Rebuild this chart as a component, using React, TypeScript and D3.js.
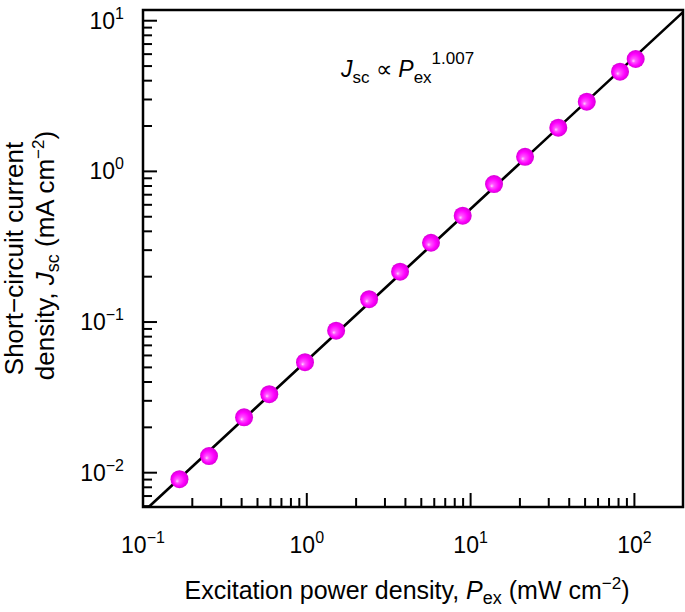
import React from "react";
import * as d3 from "d3";

// Measured data (excitation power density in mW cm^-2, Jsc in mA cm^-2)
const powerDensity = [0.167, 0.253, 0.414, 0.59, 0.975, 1.51, 2.4, 3.71, 5.73, 8.95, 13.9, 21.5, 34.3, 51.2, 81.7, 101.8];
const currentDensity = [0.00905, 0.0129, 0.0233, 0.0332, 0.0541, 0.0877, 0.1417, 0.216, 0.336, 0.508, 0.824, 1.25, 1.95, 2.9, 4.59, 5.57];

// Power-law fit Jsc = A * Pex^b
const FIT_PREFACTOR = 0.0555;
const FIT_EXPONENT = 1.007;

// Axis ticks
const xMajorExponents = [-1, 0, 1, 2];
const yMajorExponents = [-2, -1, 0, 1];
const xDomain = [0.1, 198];
const yDomain = [0.00592, 11.78];

const FONT = "'Liberation Sans', Arial, Helvetica, sans-serif";

function supLabel(e: number) {
  return e < 0 ? "\u2212" + Math.abs(e) : String(e);
}

export default function App() {
  const W = 685, H = 612;
  const left = 143, right = 683, top = 10, bottom = 507;
  const x = d3.scaleLog().domain(xDomain).range([left, right]);
  const y = d3.scaleLog().domain(yDomain).range([bottom, top]);

  const minorTicks = (domain: number[]) => {
    const out: { v: number; major: boolean }[] = [];
    const lo = Math.floor(Math.log10(domain[0]));
    const hi = Math.ceil(Math.log10(domain[1]));
    for (let e = lo; e <= hi; e++) {
      for (let m = 1; m <= 9; m++) {
        const v = m * Math.pow(10, e);
        if (v >= domain[0] * 0.9999 && v <= domain[1] * 1.0001) out.push({ v, major: m === 1 });
      }
    }
    return out;
  };
  const xt = minorTicks(xDomain);
  const yt = minorTicks(yDomain);

  const fitPts = d3.range(0, 201).map((i) => {
    const lp = Math.log10(xDomain[0]) + (i / 200) * (Math.log10(xDomain[1]) - Math.log10(xDomain[0]));
    const p = Math.pow(10, lp);
    return [p, FIT_PREFACTOR * Math.pow(p, FIT_EXPONENT)] as [number, number];
  });
  const line = d3.line<[number, number]>().x((d) => x(d[0])).y((d) => y(d[1]));

  const majorLen = 14, minorLen = 9;
  const tickFont = 23;
  const supFont = 16;
  const titleFont = 25;
  const yTitleFont = 26;
  const subFont = 18;

  return (
    <svg width={W} height={H} style={{ position: "absolute", left: 0, top: 0, background: "#fff" }} fontFamily={FONT}>
      <defs>
        <clipPath id="plotClip">
          <rect x={left} y={top} width={right - left} height={bottom - top} />
        </clipPath>
        <radialGradient id="sphere" cx="50%" cy="50%" r="50%" fx="36%" fy="62%">
          <stop offset="0%" stopColor="#ffd0ff" />
          <stop offset="22%" stopColor="#ff55ff" />
          <stop offset="65%" stopColor="#ff00ff" />
          <stop offset="100%" stopColor="#d800d8" />
        </radialGradient>
      </defs>
      <rect x={0} y={0} width={W} height={H} fill="#fff" />

      {/* fit line */}
      <path d={line(fitPts) || ""} fill="none" stroke="#000" strokeWidth={2.6} clipPath="url(#plotClip)" />

      {/* data points */}
      {powerDensity.map((p, i) => (
        <circle key={i} cx={x(p)} cy={y(currentDensity[i])} r={9} fill="url(#sphere)" />
      ))}

      {/* ticks */}
      {xt.map((t, i) => (
        <line key={"xt" + i} x1={x(t.v)} x2={x(t.v)} y1={bottom} y2={bottom - (t.major ? majorLen : minorLen)} stroke="#000" strokeWidth={2} />
      ))}
      {yt.map((t, i) => (
        <line key={"yt" + i} x1={left} x2={left + (t.major ? majorLen : minorLen)} y1={y(t.v)} y2={y(t.v)} stroke="#000" strokeWidth={2} />
      ))}

      {/* frame */}
      <rect x={left} y={top} width={right - left} height={bottom - top} fill="none" stroke="#000" strokeWidth={2.5} />

      {/* x tick labels */}
      {xMajorExponents.map((e) => (
        <text key={"xl" + e} x={x(Math.pow(10, e))} y={553} textAnchor="middle" fontSize={tickFont} fill="#000">
          10<tspan fontSize={supFont} dy={-10}>{supLabel(e)}</tspan>
        </text>
      ))}
      {/* y tick labels */}
      {yMajorExponents.map((e) => (
        <text key={"yl" + e} x={124} y={y(Math.pow(10, e)) + 8} textAnchor="end" fontSize={tickFont} fill="#000">
          10<tspan fontSize={supFont} dy={-10}>{supLabel(e)}</tspan>
        </text>
      ))}

      {/* x axis title */}
      <text x={407} y={599} textAnchor="middle" fontSize={titleFont} fill="#000">
        Excitation power density, <tspan fontStyle="italic">P</tspan>
        <tspan fontSize={subFont} dy={5}>ex</tspan>
        <tspan dy={-5}> (mW cm</tspan>
        <tspan fontSize={17} dy={-10}>{"\u22122"}</tspan>
        <tspan dy={10}>)</tspan>
      </text>

      {/* y axis title */}
      <g transform={`translate(23, ${(top + bottom) / 2}) rotate(-90)`}>
        <text x={0} y={0} textAnchor="middle" fontSize={yTitleFont} fill="#000">Short{"\u2212"}circuit current</text>
      </g>
      <g transform={`translate(54, ${(top + bottom) / 2 - 3}) rotate(-90)`}>
        <text x={0} y={0} textAnchor="middle" fontSize={yTitleFont} fill="#000">
          density, <tspan fontStyle="italic">J</tspan>
          <tspan fontSize={subFont} dy={5}>sc</tspan>
          <tspan dy={-5}> (mA cm</tspan>
          <tspan fontSize={17} dy={-10}>{"\u22122"}</tspan>
          <tspan dy={10}>)</tspan>
        </text>
      </g>

      {/* annotation */}
      <text x={341} y={77} fontSize={23} fill="#000">
        <tspan fontStyle="italic">J</tspan>
        <tspan fontSize={17} dy={6}>sc</tspan>
        <tspan dy={-6}> {"\u221D"} </tspan>
        <tspan fontStyle="italic">P</tspan>
        <tspan fontSize={17} dy={6}>ex</tspan>
        <tspan fontSize={17} dy={-19}>{FIT_EXPONENT.toFixed(3)}</tspan>
      </text>
    </svg>
  );
}
